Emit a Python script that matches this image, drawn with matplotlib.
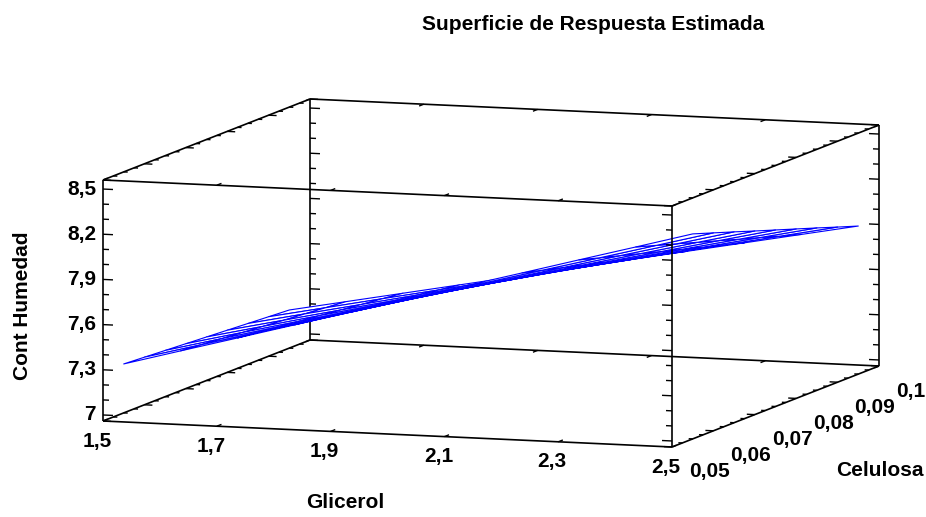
import numpy as np
import matplotlib
matplotlib.use('Agg')
import matplotlib.pyplot as plt
from matplotlib.collections import PolyCollection, LineCollection

plt.rcParams['font.family'] = ['Liberation Sans', 'DejaVu Sans']

# datos de la superficie
glicerol = [1.5, 1.6, 1.7, 1.8, 1.9, 2.0, 2.1, 2.2, 2.3, 2.4, 2.5]
celulosa = [0.055, 0.060, 0.065, 0.070, 0.075, 0.080, 0.085, 0.090, 0.095]
humedad = [
    [7.285, 7.389, 7.492, 7.596, 7.699, 7.803, 7.907, 8.010, 8.114, 8.217, 8.321],
    [7.276, 7.376, 7.476, 7.575, 7.675, 7.775, 7.875, 7.975, 8.074, 8.174, 8.274],
    [7.267, 7.363, 7.459, 7.555, 7.651, 7.747, 7.843, 7.939, 8.035, 8.131, 8.227],
    [7.258, 7.350, 7.442, 7.534, 7.627, 7.719, 7.811, 7.903, 7.995, 8.087, 8.179],
    [7.249, 7.337, 7.426, 7.514, 7.602, 7.691, 7.779, 7.867, 7.955, 8.044, 8.132],
    [7.240, 7.324, 7.409, 7.493, 7.578, 7.662, 7.747, 7.831, 7.916, 8.000, 8.085],
    [7.231, 7.312, 7.392, 7.473, 7.554, 7.634, 7.715, 7.796, 7.876, 7.957, 8.038],
    [7.222, 7.299, 7.376, 7.452, 7.529, 7.606, 7.683, 7.760, 7.837, 7.913, 7.990],
    [7.213, 7.286, 7.359, 7.432, 7.505, 7.578, 7.651, 7.724, 7.797, 7.870, 7.943],
]

g_ticks = [1.5, 1.7, 1.9, 2.1, 2.3, 2.5]
g_labels = ['1,5', '1,7', '1,9', '2,1', '2,3', '2,5']
c_ticks = [0.05, 0.06, 0.07, 0.08, 0.09, 0.1]
c_labels = ['0,05', '0,06', '0,07', '0,08', '0,09', '0,1']
z_ticks = [7.0, 7.3, 7.6, 7.9, 8.2, 8.5]
z_labels = ['7', '7,3', '7,6', '7,9', '8,2', '8,5']

# limites de la caja y proyeccion oblicua (en pixeles)
G_LIM = (1.5, 2.5)
C_LIM = (0.05, 0.1)
Z_LIM = (6.96, 8.56)
ORIG = np.array([103.0, 421.0])
VX = np.array([569.0, 26.0])
VY = np.array([207.0, -81.0])
VZ = np.array([0.0, -241.0])
UX = VX / np.linalg.norm(VX)
UY = VY / np.linalg.norm(VY)


def proj(g, c, z):
    fg = (g - G_LIM[0]) / (G_LIM[1] - G_LIM[0])
    fc = (c - C_LIM[0]) / (C_LIM[1] - C_LIM[0])
    fz = (z - Z_LIM[0]) / (Z_LIM[1] - Z_LIM[0])
    return ORIG + fg * VX + fc * VY + fz * VZ


fig = plt.figure(figsize=(9.26, 5.17), dpi=100)
ax = fig.add_axes([0, 0, 1, 1])
ax.set_xlim(0, 926)
ax.set_ylim(517, 0)
ax.axis('off')

negro = 'black'
lw_caja = 1.2

# aristas de la caja
g0, g1 = G_LIM
c0, c1 = C_LIM
z0, z1 = Z_LIM
aristas_atras = [[proj(g0, c1, z0), proj(g0, c1, z1)]]
aristas = [
    [proj(g0, c0, z0), proj(g1, c0, z0)], [proj(g0, c0, z1), proj(g1, c0, z1)],
    [proj(g0, c1, z0), proj(g1, c1, z0)], [proj(g0, c1, z1), proj(g1, c1, z1)],
    [proj(g0, c0, z0), proj(g0, c1, z0)], [proj(g0, c0, z1), proj(g0, c1, z1)],
    [proj(g1, c0, z0), proj(g1, c1, z0)], [proj(g1, c0, z1), proj(g1, c1, z1)],
    [proj(g0, c0, z0), proj(g0, c0, z1)], [proj(g1, c0, z0), proj(g1, c0, z1)],
    [proj(g1, c1, z0), proj(g1, c1, z1)],
]
ax.add_collection(LineCollection(aristas_atras, colors=negro, linewidths=lw_caja, zorder=1))
ax.add_collection(LineCollection(aristas, colors=negro, linewidths=lw_caja, zorder=3))

# marcas en las aristas verticales (Cont Humedad)
marcas_atras = []
marcas = []
z_menores = np.round(np.arange(7.0, 8.501, 0.1), 2)
for (g, c, s) in [(g0, c0, 1), (g0, c1, 1), (g1, c0, -1), (g1, c1, -1)]:
    for z in z_menores:
        largo = 10 if np.any(np.isclose(z, z_ticks)) else 6
        p = proj(g, c, z)
        seg = [p, p + s * UX * largo]
        (marcas_atras if (g == g0 and c == c1) else marcas).append(seg)

# marcas en las aristas de profundidad (Celulosa)
c_menores = np.arange(0.05, 0.10001, 0.0025)
for (g, z, s) in [(g0, z0, 1), (g0, z1, 1), (g1, z0, -1), (g1, z1, -1)]:
    for c in c_menores:
        largo = 8 if np.any(np.isclose(c, c_ticks)) else 4
        p = proj(g, c, z)
        marcas.append([p, p + s * UX * largo])

# marcas en las aristas horizontales (Glicerol)
for (c, z, s) in [(c0, z0, 1), (c0, z1, 1), (c1, z0, -1), (c1, z1, -1)]:
    for g in g_ticks:
        p = proj(g, c, z)
        marcas.append([p, p + s * UY * 5])

ax.add_collection(LineCollection(marcas_atras, colors=negro, linewidths=1.0, zorder=1))
ax.add_collection(LineCollection(marcas, colors=negro, linewidths=1.0, zorder=3))

# superficie (malla)
H = np.array(humedad)
polys = []
for i in range(len(celulosa) - 2, -1, -1):
    for j in range(len(glicerol) - 1):
        quad = [proj(glicerol[j], celulosa[i], H[i, j]),
                proj(glicerol[j + 1], celulosa[i], H[i, j + 1]),
                proj(glicerol[j + 1], celulosa[i + 1], H[i + 1, j + 1]),
                proj(glicerol[j], celulosa[i + 1], H[i + 1, j])]
        polys.append(quad)
ax.add_collection(PolyCollection(polys, facecolors='white', edgecolors='#0000ff',
                                 linewidths=0.8, zorder=2))

fs = 15
# etiquetas de los ejes
for z, lab in zip(z_ticks, z_labels):
    p = proj(g0, c0, z)
    ax.text(p[0] - 7, p[1], lab, ha='right', va='center', fontsize=fs, fontweight='bold')
for g, lab in zip(g_ticks, g_labels):
    p = proj(g, c0, z0)
    ax.text(p[0] - 6, p[1] + 20, lab, ha='center', va='center', fontsize=fs, fontweight='bold')
for c, lab in zip(c_ticks, c_labels):
    p = proj(g1, c, z0)
    ax.text(p[0] + 17, p[1] + 25, lab, ha='left', va='center', fontsize=fs, fontweight='bold')

ax.text(593, 30, 'Superficie de Respuesta Estimada', ha='center', va='baseline',
        fontsize=fs, fontweight='bold')
ax.text(23, 306, 'Cont Humedad', ha='center', va='center', rotation=90,
        fontsize=fs, fontweight='bold')
ax.text(345, 502, 'Glicerol', ha='center', va='center', fontsize=fs, fontweight='bold')
ax.text(880, 471, 'Celulosa', ha='center', va='center', fontsize=fs, fontweight='bold')

fig.savefig('out.png', dpi=100)
